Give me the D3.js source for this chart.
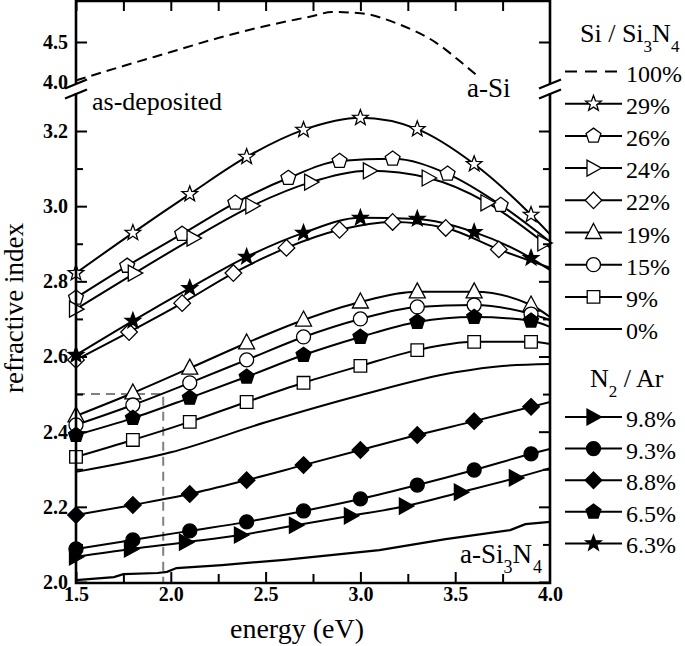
<!DOCTYPE html>
<html><head><meta charset="utf-8">
<script src="https://cdn.jsdelivr.net/npm/d3@7"></script>
<style>
body{margin:0;background:#fff;}
svg{display:block;}
text{font-family:"Liberation Serif","Times New Roman",serif;fill:#000;}
</style></head>
<body>
<svg id="chart" width="685" height="646"></svg>
<script>
// ---------------- data ----------------
const energyTicks = [1.5, 2.0, 2.5, 3.0, 3.5, 4.0];
const energyMinor = [1.75, 2.25, 2.75, 3.25, 3.75];
const nTicksLower = [2.0, 2.2, 2.4, 2.6, 2.8, 3.0, 3.2];
const nMinorLower = [2.1, 2.3, 2.5, 2.7, 2.9, 3.1, 3.3];
const nTicksUpper = [4.0, 4.5];

// a-Si (100%), upper panel
const eASi = [1.5, 1.75, 2.0, 2.25, 2.5, 2.75, 2.85, 3.0, 3.2, 3.4, 3.55, 3.63];
const nASi = [4.02, 4.20, 4.375, 4.55, 4.70, 4.825, 4.875, 4.86, 4.725, 4.49, 4.21, 4.05];

// Si / Si3N4 series (open markers)
const e29 = [1.5, 1.8, 2.1, 2.4, 2.7, 3.0, 3.3, 3.6, 3.9, 4.0];
const n29 = [2.822, 2.929, 3.032, 3.131, 3.203, 3.235, 3.205, 3.112, 2.977, 2.925];
const e26 = [1.5, 1.77, 2.06, 2.34, 2.62, 2.89, 3.17, 3.46, 3.74, 4.0];
const n26 = [2.756, 2.841, 2.926, 3.009, 3.075, 3.120, 3.126, 3.086, 3.003, 2.905];
const e24 = [1.5, 1.81, 2.12, 2.43, 2.74, 3.05, 3.36, 3.67, 3.97, 4.0];
const n24 = [2.726, 2.822, 2.915, 3.001, 3.064, 3.094, 3.075, 3.009, 2.902, 2.89];
const e22 = [1.5, 1.78, 2.06, 2.33, 2.61, 2.89, 3.17, 3.45, 3.73, 4.0];
const n22 = [2.591, 2.665, 2.742, 2.822, 2.889, 2.937, 2.958, 2.942, 2.885, 2.836];
const eStd = [1.5, 1.8, 2.1, 2.4, 2.7, 3.0, 3.3, 3.6, 3.9, 4.0];
const n19 = [2.442, 2.503, 2.569, 2.636, 2.697, 2.745, 2.772, 2.772, 2.737, 2.705];
const n15 = [2.418, 2.471, 2.530, 2.591, 2.652, 2.700, 2.732, 2.737, 2.713, 2.697];
const n9  = [2.333, 2.378, 2.426, 2.479, 2.530, 2.575, 2.617, 2.639, 2.639, 2.633];
const e0 = [1.5, 2.0, 2.5, 3.0, 3.5, 3.75, 4.0];
const n0 = [2.293, 2.345, 2.425, 2.497, 2.558, 2.575, 2.580];

// N2 / Ar series (filled markers)
const e98 = [1.5, 1.79, 2.08, 2.37, 2.66, 2.95, 3.24, 3.53, 3.82, 4.0];
const n98 = [2.067, 2.088, 2.106, 2.125, 2.151, 2.176, 2.202, 2.239, 2.277, 2.303];
const n93 = [2.088, 2.112, 2.136, 2.160, 2.189, 2.221, 2.258, 2.298, 2.341, 2.354];
const n88 = [2.178, 2.205, 2.234, 2.271, 2.311, 2.351, 2.391, 2.428, 2.466, 2.479];
const n65 = [2.391, 2.436, 2.490, 2.546, 2.604, 2.652, 2.692, 2.705, 2.695, 2.679];
const n63 = [2.604, 2.695, 2.782, 2.865, 2.929, 2.969, 2.966, 2.931, 2.862, 2.830];

// a-Si3N4 (no markers)
const eSiN = [1.5, 1.7, 1.75, 1.93, 1.98, 2.03, 2.27, 2.6, 3.1, 3.45, 3.79, 3.87, 4.0];
const nSiN = [2.005, 2.013, 2.021, 2.024, 2.027, 2.037, 2.045, 2.059, 2.085, 2.114, 2.138, 2.154, 2.160];

const refEnergy = 1.96, refIndex = 2.5;

const legendSi = ["100%", "29%", "26%", "24%", "22%", "19%", "15%", "9%", "0%"];
const legendN = ["9.8%", "9.3%", "8.8%", "6.5%", "6.3%"];

// ---------------- setup ----------------
const svg = d3.select("#chart");
const L = 76, R = 550, T = 1, B = 583;
const x = d3.scaleLinear().domain([1.5, 4.0]).range([L, R]);
const yLow = d3.scaleLinear().domain([2.0, 3.2]).range([582, 131]);
const yUp = d3.scaleLinear().domain([4.0, 4.5]).range([82, 42]);
const breakTop = 84, breakBot = 93;

function zip(es, ns) { return es.map((e, i) => ({e: e, n: ns[i]})); }

const series = [
  {name: "29%", pts: zip(e29, n29), m: "star", fill: false},
  {name: "26%", pts: zip(e26, n26), m: "pent", fill: false},
  {name: "24%", pts: zip(e24, n24), m: "triR", fill: false},
  {name: "22%", pts: zip(e22, n22), m: "diam", fill: false},
  {name: "19%", pts: zip(eStd, n19), m: "triU", fill: false},
  {name: "15%", pts: zip(eStd, n15), m: "circ", fill: false},
  {name: "9%", pts: zip(eStd, n9), m: "sq", fill: false},
  {name: "0%", pts: zip(e0, n0), m: null, fill: false},
  {name: "9.8%", pts: zip(e98, n98), m: "triR", fill: true},
  {name: "9.3%", pts: zip(eStd, n93), m: "circ", fill: true},
  {name: "8.8%", pts: zip(eStd, n88), m: "diam", fill: true},
  {name: "6.5%", pts: zip(eStd, n65), m: "pent", fill: true},
  {name: "6.3%", pts: zip(eStd, n63), m: "star", fill: true}
];

function markerPath(type) {
  const p = [];
  if (type === "star") {
    const ro = 8.2, ri = 3.4;
    for (let k = 0; k < 10; k++) {
      const r = k % 2 ? ri : ro, a = -Math.PI / 2 + k * Math.PI / 5;
      p.push([r * Math.cos(a), r * Math.sin(a)]);
    }
  } else if (type === "pent") {
    const r = 7.8;
    for (let k = 0; k < 5; k++) {
      const a = -Math.PI / 2 + k * 2 * Math.PI / 5;
      p.push([r * Math.cos(a), r * Math.sin(a)]);
    }
  } else if (type === "triR") {
    p.push([8, 0], [-6.5, -8], [-6.5, 8]);
  } else if (type === "triU") {
    p.push([0, -9], [8, 6], [-8, 6]);
  } else if (type === "diam") {
    p.push([0, -8.3], [8.3, 0], [0, 8.3], [-8.3, 0]);
  } else if (type === "sq") {
    p.push([-6.3, -6.3], [6.3, -6.3], [6.3, 6.3], [-6.3, 6.3]);
  } else if (type === "circ") {
    const r = 7;
    return `M${r},0A${r},${r} 0 1,1 ${-r},0A${r},${r} 0 1,1 ${r},0Z`;
  }
  return "M" + p.map(q => q[0].toFixed(2) + "," + q[1].toFixed(2)).join("L") + "Z";
}

function drawMarker(g, type, fill, cx, cy) {
  g.append("path").attr("d", markerPath(type))
    .attr("transform", `translate(${cx},${cy})`)
    .attr("fill", fill ? "#000" : "#fff")
    .attr("stroke", "#000").attr("stroke-width", 1.3)
    .attr("stroke-linejoin", "miter");
}

// ---------------- gray reference lines ----------------
svg.append("path")
  .attr("d", `M${L},${yLow(refIndex)}H${x(refEnergy)}V${B}`)
  .attr("fill", "none").attr("stroke", "#808080").attr("stroke-width", 2)
  .attr("stroke-dasharray", "9,6");

// ---------------- curves ----------------
const lineLow = d3.line().x(d => x(d.e)).y(d => yLow(d.n)).curve(d3.curveMonotoneX);
const lineUp = d3.line().x(d => x(d.e)).y(d => yUp(d.n)).curve(d3.curveMonotoneX);

svg.append("path").datum(zip(eASi, nASi)).attr("d", lineUp)
  .attr("fill", "none").attr("stroke", "#000").attr("stroke-width", 2)
  .attr("stroke-dasharray", "10,6");

svg.append("path").datum(zip(eSiN, nSiN))
  .attr("d", d3.line().x(d => x(d.e)).y(d => yLow(d.n)).curve(d3.curveLinear))
  .attr("fill", "none").attr("stroke", "#000").attr("stroke-width", 2.2);

series.forEach(s => {
  svg.append("path").datum(s.pts).attr("d", lineLow)
    .attr("fill", "none").attr("stroke", "#000").attr("stroke-width", 2);
});
const mg = svg.append("g");
series.forEach(s => {
  if (!s.m) return;
  s.pts.filter(d => d.e < 4.0).forEach(d => drawMarker(mg, s.m, s.fill, x(d.e), yLow(d.n)));
});

// ---------------- axes ----------------
const axG = svg.append("g");
function styleAxis(g) {
  g.select(".domain").remove();
  g.selectAll(".tick line").attr("stroke", "#000").attr("stroke-width", 2);
  g.selectAll("text").style("font-family", '"Liberation Serif",serif')
    .style("font-weight", "bold").style("font-size", "20px").attr("fill", "#000");
}
const fmt = d3.format(".1f");
// bottom
axG.append("g").attr("transform", `translate(0,${B})`)
  .call(d3.axisBottom(x).tickValues(energyTicks).tickFormat(fmt).tickSize(-11).tickPadding(4)).call(styleAxis);
axG.append("g").attr("transform", `translate(0,${B})`)
  .call(d3.axisBottom(x).tickValues(energyMinor).tickFormat("").tickSize(-9)).call(styleAxis);
// top
axG.append("g").attr("transform", `translate(0,${T})`)
  .call(d3.axisTop(x).tickValues(energyTicks.concat(energyMinor)).tickFormat("").tickSize(-10)).call(styleAxis);
// left lower
axG.append("g").attr("transform", `translate(${L},0)`)
  .call(d3.axisLeft(yLow).tickValues(nTicksLower).tickFormat(fmt).tickSize(-11).tickPadding(8)).call(styleAxis);
axG.append("g").attr("transform", `translate(${L},0)`)
  .call(d3.axisLeft(yLow).tickValues(nMinorLower.filter(v => yLow(v) > breakBot + 2)).tickFormat("").tickSize(-7)).call(styleAxis);
// left upper
axG.append("g").attr("transform", `translate(${L},0)`)
  .call(d3.axisLeft(yUp).tickValues(nTicksUpper).tickFormat(fmt).tickSize(-11).tickPadding(8)).call(styleAxis);
axG.selectAll("g.tick").filter(d => d === 4.0).select("line").remove();
// right
axG.append("g").attr("transform", `translate(${R},0)`)
  .call(d3.axisRight(yLow).tickValues(nTicksLower).tickFormat("").tickSize(-11)).call(styleAxis);
axG.append("g").attr("transform", `translate(${R},0)`)
  .call(d3.axisRight(yLow).tickValues(nMinorLower.filter(v => yLow(v) > breakBot + 2)).tickFormat("").tickSize(-7)).call(styleAxis);
axG.append("g").attr("transform", `translate(${R},0)`)
  .call(d3.axisRight(yUp).tickValues([4.5]).tickFormat("").tickSize(-11)).call(styleAxis);

// frame with breaks
const frame = svg.append("g").attr("stroke", "#000").attr("stroke-width", 2.6).attr("fill", "none");
frame.append("path").attr("d", `M${L},${breakTop}V${T}H${R}V${breakTop}`);
frame.append("path").attr("d", `M${L},${breakBot}V${B}H${R}V${breakBot}`);
[L, R].forEach(ax => {
  frame.append("line").attr("x1", ax - 11).attr("y1", 88.5).attr("x2", ax + 11).attr("y2", 79.5).attr("stroke-width", 2.2);
  frame.append("line").attr("x1", ax - 11).attr("y1", 98.5).attr("x2", ax + 11).attr("y2", 89.5).attr("stroke-width", 2.2);
});

// ---------------- labels ----------------
svg.append("text").attr("x", 297).attr("y", 638).attr("text-anchor", "middle")
  .style("font-size", "28px").text("energy (eV)");
svg.append("text").attr("transform", "translate(23,308) rotate(-90)").attr("text-anchor", "middle")
  .style("font-size", "27px").text("refractive index");
svg.append("text").attr("x", 92).attr("y", 110).style("font-size", "26px").text("as-deposited");
svg.append("text").attr("x", 467).attr("y", 97).style("font-size", "27px").text("a-Si");
const sin = svg.append("text").attr("x", 460).attr("y", 563).style("font-size", "27px");
sin.append("tspan").text("a-Si");
sin.append("tspan").attr("dy", 10).style("font-size", "18px").text("3");
sin.append("tspan").attr("dy", -10).text("N");
sin.append("tspan").attr("dy", 10).attr("dx", 1).style("font-size", "18px").text("4");

// ---------------- legends ----------------
const lg = svg.append("g");
const t1 = lg.append("text").attr("x", 580).attr("y", 42).style("font-size", "26px");
t1.append("tspan").text("Si / Si");
t1.append("tspan").attr("dy", 10).style("font-size", "17px").text("3");
t1.append("tspan").attr("dy", -10).text("N");
t1.append("tspan").attr("dy", 10).style("font-size", "17px").text("4");

const legSiSeries = [null].concat(series.slice(0, 8));
legendSi.forEach((lab, i) => {
  const yy = 71.5 + i * 32.2;
  const s = legSiSeries[i];
  lg.append("line").attr("x1", 565).attr("x2", 622).attr("y1", yy).attr("y2", yy)
    .attr("stroke", "#000").attr("stroke-width", 2)
    .attr("stroke-dasharray", s ? null : "12,8");
  if (s && s.m) drawMarker(lg, s.m, s.fill, 593.5, yy);
  lg.append("text").attr("x", 626).attr("y", yy + 10).style("font-size", "24px").text(lab);
});

const t2 = lg.append("text").attr("x", 590).attr("y", 387).style("font-size", "26px");
t2.append("tspan").text("N");
t2.append("tspan").attr("dy", 10).style("font-size", "17px").text("2");
t2.append("tspan").attr("dy", -10).text(" / Ar");
const legNSeries = series.slice(8);
legendN.forEach((lab, i) => {
  const yy = 417 + i * 31.6;
  const s = legNSeries[i];
  lg.append("line").attr("x1", 565).attr("x2", 622).attr("y1", yy).attr("y2", yy)
    .attr("stroke", "#000").attr("stroke-width", 2);
  drawMarker(lg, s.m, s.fill, 593.5, yy);
  lg.append("text").attr("x", 626).attr("y", yy + 10).style("font-size", "24px").text(lab);
});
</script>
</body></html>
